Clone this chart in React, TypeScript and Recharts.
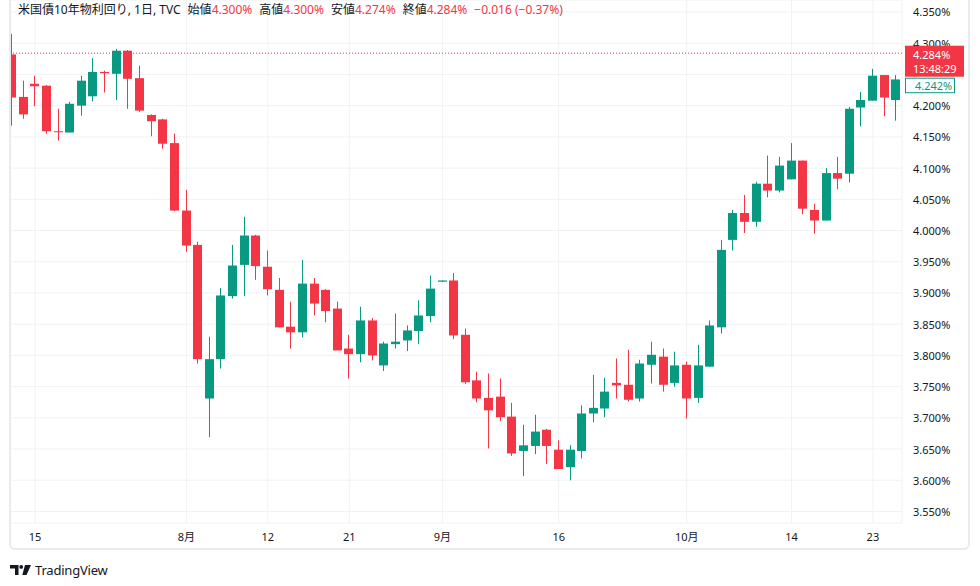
import { Bar, CartesianGrid, ComposedChart, ReferenceLine, XAxis, YAxis } from "recharts";

const dates = [
  "7/11", "7/12", "7/15", "7/16", "7/17", "7/18", "7/19", "7/22", "7/23", "7/24", "7/25", "7/26", "7/29", "7/30", "7/31",
  "8/1", "8/2", "8/5", "8/6", "8/7", "8/8", "8/9", "8/12", "8/13", "8/14", "8/15", "8/16", "8/19", "8/20", "8/21", "8/22",
  "8/23", "8/26", "8/27", "8/28", "8/29", "8/30",
  "9/2", "9/3", "9/4", "9/5", "9/6", "9/9", "9/10", "9/11", "9/12", "9/13", "9/16", "9/17", "9/18", "9/19", "9/20",
  "9/23", "9/24", "9/25", "9/26", "9/27", "9/30",
  "10/1", "10/2", "10/3", "10/4", "10/7", "10/8", "10/9", "10/10", "10/11", "10/14", "10/15", "10/16", "10/17", "10/18",
  "10/21", "10/22", "10/23", "10/24", "10/25",
];

const opens = [
  4.282, 4.214, 4.235, 4.232, 4.159, 4.157, 4.2, 4.215, 4.254, 4.251, 4.288, 4.244, 4.185, 4.178, 4.14,
  4.032, 3.977, 3.731, 3.794, 3.895, 3.945, 3.992, 3.942, 3.905, 3.846, 3.837, 3.915, 3.905, 3.875, 3.811, 3.802,
  3.856, 3.784, 3.818, 3.824, 3.839, 3.863,
  3.918, 3.92, 3.833, 3.76, 3.732, 3.734, 3.702, 3.647, 3.655, 3.681, 3.649, 3.621, 3.647, 3.707, 3.715,
  3.756, 3.753, 3.731, 3.785, 3.798, 3.756,
  3.785, 3.732, 3.782, 3.845, 3.985, 4.028, 4.014, 4.075, 4.064, 4.082, 4.112, 4.033, 4.016, 4.092,
  4.091, 4.197, 4.208, 4.249, 4.209,
];
const highs = [
  4.315, 4.24, 4.248, 4.233, 4.195, 4.206, 4.248, 4.276, 4.256, 4.291, 4.289, 4.264, 4.186, 4.179, 4.155,
  4.065, 3.982, 3.83, 3.908, 3.977, 4.022, 3.993, 3.968, 3.924, 3.886, 3.953, 3.924, 3.906, 3.886, 3.833, 3.878,
  3.86, 3.822, 3.867, 3.848, 3.888, 3.928,
  3.92, 3.932, 3.843, 3.774, 3.771, 3.763, 3.724, 3.689, 3.705, 3.682, 3.664, 3.656, 3.72, 3.769, 3.764,
  3.795, 3.809, 3.793, 3.822, 3.811, 3.806,
  3.79, 3.817, 3.856, 3.985, 4.033, 4.057, 4.078, 4.12, 4.118, 4.14, 4.112, 4.043, 4.1, 4.118,
  4.198, 4.222, 4.259, 4.249, 4.249,
];
const lows = [
  4.168, 4.179, 4.199, 4.155, 4.144, 4.157, 4.184, 4.207, 4.221, 4.209, 4.195, 4.19, 4.151, 4.131, 4.031,
  3.966, 3.787, 3.669, 3.779, 3.891, 3.895, 3.921, 3.896, 3.845, 3.811, 3.829, 3.864, 3.853, 3.808, 3.763, 3.789,
  3.792, 3.775, 3.811, 3.807, 3.818, 3.853,
  3.918, 3.826, 3.754, 3.725, 3.651, 3.695, 3.639, 3.607, 3.642, 3.626, 3.618, 3.6, 3.635, 3.693, 3.701,
  3.731, 3.726, 3.726, 3.755, 3.742, 3.75,
  3.699, 3.724, 3.782, 3.835, 3.968, 3.996, 4.006, 4.053, 4.061, 4.082, 4.026, 3.995, 4.016, 4.066,
  4.077, 4.167, 4.208, 4.183, 4.176,
];
const closes = [
  4.213, 4.186, 4.231, 4.159, 4.158, 4.203, 4.24, 4.254, 4.252, 4.288, 4.243, 4.192, 4.175, 4.139, 4.032,
  3.976, 3.794, 3.794, 3.896, 3.944, 3.992, 3.943, 3.906, 3.845, 3.837, 3.915, 3.883, 3.871, 3.808, 3.802, 3.856,
  3.8, 3.819, 3.822, 3.84, 3.864, 3.907,
  3.92, 3.832, 3.757, 3.731, 3.712, 3.701, 3.643, 3.656, 3.678, 3.655, 3.618, 3.649, 3.707, 3.716, 3.742,
  3.752, 3.729, 3.787, 3.801, 3.753, 3.784,
  3.731, 3.784, 3.848, 3.969, 4.028, 4.014, 4.075, 4.064, 4.104, 4.112, 4.035, 4.016, 4.092, 4.083,
  4.195, 4.209, 4.248, 4.213, 4.242,
];

const tickDates = ["7/15", "8/1", "8/12", "8/21", "9/2", "9/16", "10/1", "10/14", "10/23"];
const tickLabels = ["15", "8月", "12", "21", "9月", "16", "10月", "14", "23"];
const priceTicks = [
  3.55, 3.6, 3.65, 3.7, 3.75, 3.8, 3.85, 3.9, 3.95, 4.0, 4.05, 4.1, 4.15, 4.2, 4.25, 4.3, 4.35,
];

const title = "米国債10年物利回り, 1日, TVC";
const ohlcNames = ["始値", "高値", "安値", "終値"];
const ohlcValues = ["4.300%", "4.300%", "4.274%", "4.284%"];
const changeText = "−0.016 (−0.37%)";
const lastPrice = 4.284;
const lastClose = "4.242%";
const countdown = "13:48:29";

const RED = "#F23645";
const GREEN = "#089981";
const TEXT = "#131722";
const FONT = '"Noto Sans", "Noto Sans CJK JP", sans-serif';
const Y_DOMAIN: [number, number] = [3.5316, 4.3692];

const data = dates.map((date, i) => ({
  date,
  open: opens[i],
  high: highs[i],
  low: lows[i],
  close: closes[i],
}));

function Candle(props: any) {
  const { x, y, width, height, payload } = props;
  if (!payload) return null;
  const { open, high, low, close } = payload;
  const top = Math.min(y, y + height);
  const span = Math.abs(height);
  const k = high - low > 0 ? span / (high - low) : 0;
  const yOf = (v: number) => top + (high - v) * k;
  const color = close >= open ? GREEN : RED;
  const rx = Math.round(x);
  const w = Math.round(width);
  const cx = rx + Math.floor(w / 2) + 0.5;
  const bTop = yOf(Math.max(open, close));
  const bBot = yOf(Math.min(open, close));
  return (
    <g>
      <line x1={cx} x2={cx} y1={top} y2={top + span} stroke={color} strokeWidth={1} />
      <rect x={rx} y={bTop} width={w} height={Math.max(1, bBot - bTop)} fill={color} />
    </g>
  );
}

// price labels that sit under the price tags are not drawn (TradingView hides them too)
function PriceTick(props: any) {
  const { x, y, payload } = props;
  const v = payload.value;
  if (v < lastPrice + 0.01 && v > lastPrice - 0.064) return null;
  return (
    <text x={x} y={y} fill={TEXT} fontSize={11} fontFamily={FONT} dominantBaseline="central">
      {v.toFixed(3)}%
    </text>
  );
}

// red last-price tag with countdown, green close tag pushed just below it
function PriceTags(props: any) {
  const vb = props.viewBox;
  if (!vb) return null;
  const x = vb.x + vb.width + 3;
  const y = vb.y;
  return (
    <g style={{ fontFamily: FONT, fontSize: 11 }}>
      <rect x={x} y={y - 7.5} width={59} height={31} fill={RED} />
      <text x={x + 8} y={y + 1} fill="#fff" dominantBaseline="central">
        {lastPrice.toFixed(3)}%
      </text>
      <text x={x + 8} y={y + 15.5} fill="#fff" dominantBaseline="central">
        {countdown}
      </text>
      <rect x={x + 0.5} y={y + 25} width={49} height={14.5} fill="#fff" stroke={GREEN} strokeWidth={1} />
      <text x={x + 10} y={y + 32.5} fill={GREEN} dominantBaseline="central">
        {lastClose}
      </text>
    </g>
  );
}

const noShape = () => null;

export default function App() {
  return (
    <div
      style={{
        position: "fixed",
        left: 0,
        top: 0,
        width: 980,
        height: 586,
        background: "#fff",
        overflow: "hidden",
        fontFamily: FONT,
      }}
    >
      <ComposedChart
        width={970}
        height={550}
        data={data}
        margin={{ top: 0, right: 0, bottom: 0, left: 6 }}
        style={{ position: "absolute", left: 0, top: 0 }}
      >
        <CartesianGrid stroke="#f0f2f5" strokeWidth={1} />
        <XAxis
          dataKey="date"
          ticks={tickDates}
          interval={0}
          tickFormatter={(v) => tickLabels[tickDates.indexOf(v)]}
          axisLine={false}
          tickLine={false}
          tickSize={8}
          tickMargin={2}
          height={27}
          tick={{ fill: TEXT, fontSize: 11, fontFamily: FONT }}
        />
        <YAxis
          orientation="right"
          domain={Y_DOMAIN}
          ticks={priceTicks}
          interval={0}
          axisLine={false}
          tickLine={false}
          tickSize={9}
          tickMargin={2}
          width={68}
          tick={<PriceTick />}
        />
        <ReferenceLine y={lastPrice} stroke={RED} strokeDasharray="1 2" strokeWidth={1} />
        <Bar
          dataKey={(d: any) => [d.low, d.high]}
          barSize={9}
          shape={<Candle />}
          isAnimationActive={false}
        />
      </ComposedChart>

      {/* second layer so the tags sit above the axis labels */}
      <ComposedChart
        width={970}
        height={550}
        data={data}
        margin={{ top: 0, right: 0, bottom: 0, left: 6 }}
        style={{ position: "absolute", left: 0, top: 0, pointerEvents: "none" }}
      >
        <XAxis dataKey="date" height={27} tick={false} axisLine={false} tickLine={false} />
        <YAxis
          orientation="right"
          domain={Y_DOMAIN}
          width={68}
          tick={false}
          axisLine={false}
          tickLine={false}
        />
        <Bar dataKey={(d: any) => [d.low, d.high]} shape={noShape} isAnimationActive={false} />
        <ReferenceLine
          y={lastPrice}
          stroke="transparent"
          label={(p: any) => <PriceTags viewBox={p.viewBox} />}
        />
      </ComposedChart>

      <div style={{ position: "absolute", left: 0, top: 0, width: 9, height: 586, background: "#fff" }} />
      <div
        style={{
          position: "absolute",
          left: 9,
          top: -10,
          width: 961,
          height: 560,
          border: "2px solid #e9ebf0",
          borderRadius: 6,
          boxSizing: "border-box",
          pointerEvents: "none",
        }}
      />

      <div
        style={{
          position: "absolute",
          left: 18,
          top: 2,
          fontSize: 12,
          lineHeight: "16px",
          color: TEXT,
          whiteSpace: "nowrap",
        }}
      >
        <span>{title}</span>
        {ohlcNames.map((n, i) => (
          <span key={n} style={{ marginLeft: 7 }}>
            {n}
            <span style={{ color: RED }}>{ohlcValues[i]}</span>
          </span>
        ))}
        <span style={{ marginLeft: 7, color: RED }}>{changeText}</span>
      </div>

      <div style={{ position: "absolute", left: 10, top: 561, display: "flex", alignItems: "center" }}>
        <svg width={21} height={10} viewBox="0 0 21 10">
          <path d="M0 0 H8.5 V10 H5 V3.5 H0 Z" fill={TEXT} />
          <circle cx={11.2} cy={1.9} r={1.9} fill={TEXT} />
          <path d="M15 0 H21 L16.5 10 H12.3 Z" fill={TEXT} />
        </svg>
        <span style={{ marginLeft: 4, fontSize: 13, color: TEXT, letterSpacing: -0.2 }}>TradingView</span>
      </div>
    </div>
  );
}
